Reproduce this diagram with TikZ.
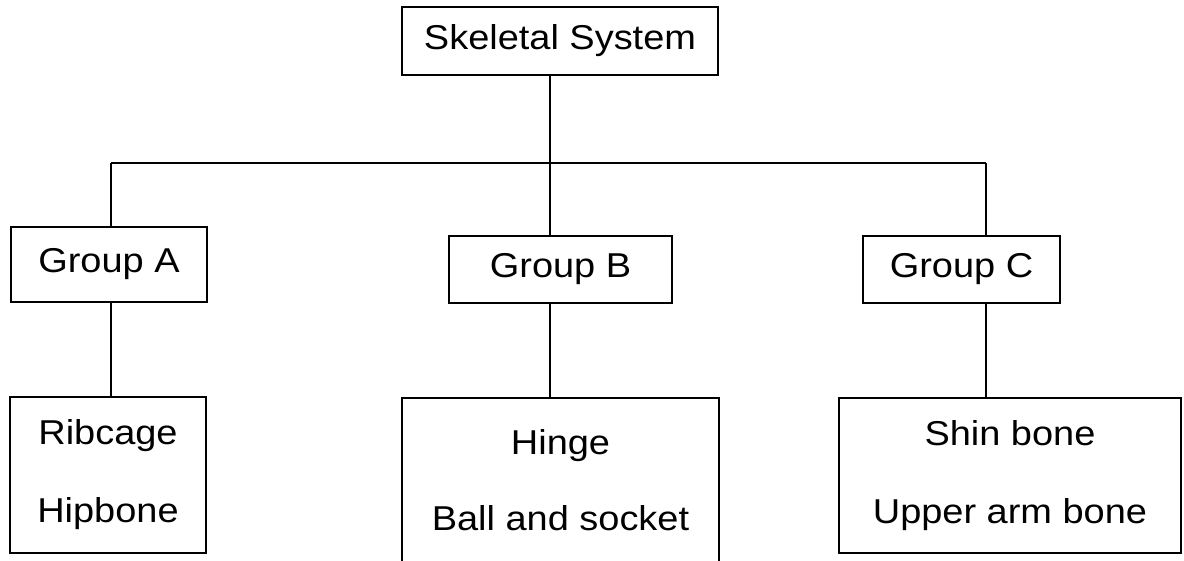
\documentclass[tikz,border=0pt]{standalone}
\usepackage{fontspec}
\setmainfont{Liberation Sans}[FakeStretch=1.1]
\begin{document}
\begin{tikzpicture}[x=1pt,y=-1pt,
  box/.style={draw, line width=1.5pt, rectangle, inner sep=0pt, align=center, font=\fontsize{34.5}{40}\selectfont},
  conn/.style={line width=1.5pt}]
\useasboundingbox (0,0) rectangle (1184,560);
\node[box, minimum width=316pt, minimum height=68pt] (top) at (560,41) {Skeletal System};
\node[box, minimum width=196pt, minimum height=75pt] (ga) at (109,264.5) {Group A};
\node[box, minimum width=223pt, minimum height=67pt] (gb) at (560.5,269.5) {Group B};
\node[box, minimum width=197pt, minimum height=67pt] (gc) at (961.5,269.5) {Group C};
\node[box, minimum width=196pt, minimum height=156pt] (ra) at (108,475) {Ribcage\\[38pt]Hipbone};
\node[box, minimum width=317pt, minimum height=164pt] (rb) at (560.5,480) {Hinge\\[36pt]Ball and socket};
\node[box, minimum width=342pt, minimum height=155pt] (rc) at (1010,475.5) {Shin bone\\[38pt]Upper arm bone};
\coordinate (jA) at (111,163);
\coordinate (jB) at (550,163);
\coordinate (jC) at (986,163);
\draw[conn] (top.south -| jB) -- (jB);
\draw[conn] (jA) -- (jC);
\draw[conn] (jA) -- (ga.north -| jA);
\draw[conn] (jB) -- (gb.north -| jB);
\draw[conn] (jC) -- (gc.north -| jC);
\draw[conn] (ga.south -| jA) -- (ra.north -| jA);
\draw[conn] (gb.south -| jB) -- (rb.north -| jB);
\draw[conn] (gc.south -| jC) -- (rc.north -| jC);
\end{tikzpicture}
\end{document}
